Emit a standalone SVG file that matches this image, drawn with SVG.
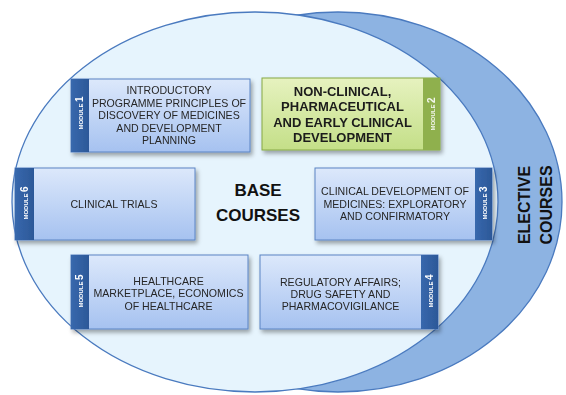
<svg xmlns="http://www.w3.org/2000/svg" width="566" height="395" viewBox="0 0 566 395">
<defs>
<linearGradient id="gBlue" x1="0" y1="0" x2="0" y2="1">
<stop offset="0" stop-color="#dce8fb"/>
<stop offset="1" stop-color="#a6c2f0"/>
</linearGradient>
<linearGradient id="gGreen" x1="0" y1="0" x2="0" y2="1">
<stop offset="0" stop-color="#e6f2bf"/>
<stop offset="1" stop-color="#c4df88"/>
</linearGradient>
<linearGradient id="gTab" x1="0" y1="0" x2="1" y2="0">
<stop offset="0" stop-color="#3868ad"/>
<stop offset="1" stop-color="#2c5898"/>
</linearGradient>
<filter id="sh" x="-10%" y="-10%" width="125%" height="135%">
<feDropShadow dx="2" dy="3" stdDeviation="2" flood-color="#000" flood-opacity="0.35"/>
</filter>
<style>
.box{fill:url(#gBlue);stroke:#5a84c4;stroke-width:1}
.gbox{fill:url(#gGreen);stroke:#86a845;stroke-width:1}
.tab{fill:url(#gTab)}
.gtab{fill:#8fb04e}
.t{font-family:"Liberation Sans",Arial,sans-serif;font-size:10.6px;fill:#262626;text-anchor:middle}
.tb{font-family:"Liberation Sans",Arial,sans-serif;font-size:13px;font-weight:bold;fill:#1a1a1a;text-anchor:middle}
.big{font-family:"Liberation Sans",Arial,sans-serif;font-size:17px;font-weight:bold;fill:#111;text-anchor:middle}
.el{font-family:"Liberation Sans",Arial,sans-serif;font-size:16px;font-weight:bold;fill:#111;text-anchor:middle}
.ml{font-family:"Liberation Sans",Arial,sans-serif;font-size:6px;font-weight:bold;fill:#ffffff;text-anchor:middle}
.mn{font-size:10px}
</style>
</defs>
<rect width="566" height="395" fill="#ffffff"/>
<g id="elective">
<ellipse cx="338" cy="202" rx="224" ry="190" fill="#8db3e2" stroke="#4a7abf" stroke-width="1.3"/>
<text class="el" transform="translate(530,205) rotate(-90)">ELECTIVE</text>
<text class="el" transform="translate(552,205) rotate(-90)">COURSES</text>
</g>
<g id="base">
<ellipse cx="255" cy="202" rx="243" ry="190" fill="#e6f4fd" stroke="#4a7abf" stroke-width="1.3"/>
<text class="big" x="258" y="196">BASE</text>
<text class="big" x="258" y="221">COURSES</text>
</g>
<g id="connectors"></g>
<g id="module1" filter="url(#sh)">
<rect class="box" x="71" y="79" width="179" height="73"/>
<rect class="tab" x="71" y="79" width="18" height="73"/>
<text class="ml" transform="translate(83,113) rotate(-90)">MODULE <tspan class="mn">1</tspan></text>
<text class="t" x="169" y="94">INTRODUCTORY</text>
<text class="t" x="169" y="106.5">PROGRAMME PRINCIPLES OF</text>
<text class="t" x="169" y="119">DISCOVERY OF MEDICINES</text>
<text class="t" x="169" y="131.5">AND DEVELOPMENT</text>
<text class="t" x="169" y="144">PLANNING</text>
</g>
<g id="module2" filter="url(#sh)">
<rect class="gbox" x="262" y="78" width="178" height="72"/>
<rect class="gtab" x="423" y="78" width="17" height="72"/>
<text class="ml" transform="translate(435,114) rotate(-90)" fill-opacity="0.9">MODULE <tspan class="mn">2</tspan></text>
<text class="tb" x="342.5" y="96">NON-CLINICAL,</text>
<text class="tb" x="342.5" y="111">PHARMACEUTICAL</text>
<text class="tb" x="342.5" y="126.5">AND EARLY CLINICAL</text>
<text class="tb" x="342.5" y="141.5">DEVELOPMENT</text>
</g>
<g id="module6" filter="url(#sh)">
<rect class="box" x="15" y="168" width="180" height="72"/>
<rect class="tab" x="15" y="168" width="19" height="72"/>
<text class="ml" transform="translate(27.5,203) rotate(-90)">MODULE <tspan class="mn">6</tspan></text>
<text class="t" x="114" y="208">CLINICAL TRIALS</text>
</g>
<g id="module3" filter="url(#sh)">
<rect class="box" x="315" y="168" width="177" height="72"/>
<rect class="tab" x="475" y="168" width="17" height="72"/>
<text class="ml" transform="translate(487,203) rotate(-90)">MODULE <tspan class="mn">3</tspan></text>
<text class="t" x="395" y="195">CLINICAL DEVELOPMENT OF</text>
<text class="t" x="395" y="207.5">MEDICINES: EXPLORATORY</text>
<text class="t" x="395" y="219.5">AND CONFIRMATORY</text>
</g>
<g id="module5" filter="url(#sh)">
<rect class="box" x="71" y="255" width="177" height="74"/>
<rect class="tab" x="71" y="255" width="18" height="74"/>
<text class="ml" transform="translate(83,291) rotate(-90)">MODULE <tspan class="mn">5</tspan></text>
<text class="t" x="168.5" y="284.5">HEALTHCARE</text>
<text class="t" x="168.5" y="297">MARKETPLACE, ECONOMICS</text>
<text class="t" x="168.5" y="309.5">OF HEALTHCARE</text>
</g>
<g id="module4" filter="url(#sh)">
<rect class="box" x="260" y="255" width="178" height="74"/>
<rect class="tab" x="421" y="255" width="17" height="74"/>
<text class="ml" transform="translate(433,291) rotate(-90)">MODULE <tspan class="mn">4</tspan></text>
<text class="t" x="340.5" y="286">REGULATORY AFFAIRS;</text>
<text class="t" x="340.5" y="298">DRUG SAFETY AND</text>
<text class="t" x="340.5" y="310">PHARMACOVIGILANCE</text>
</g>
</svg>
